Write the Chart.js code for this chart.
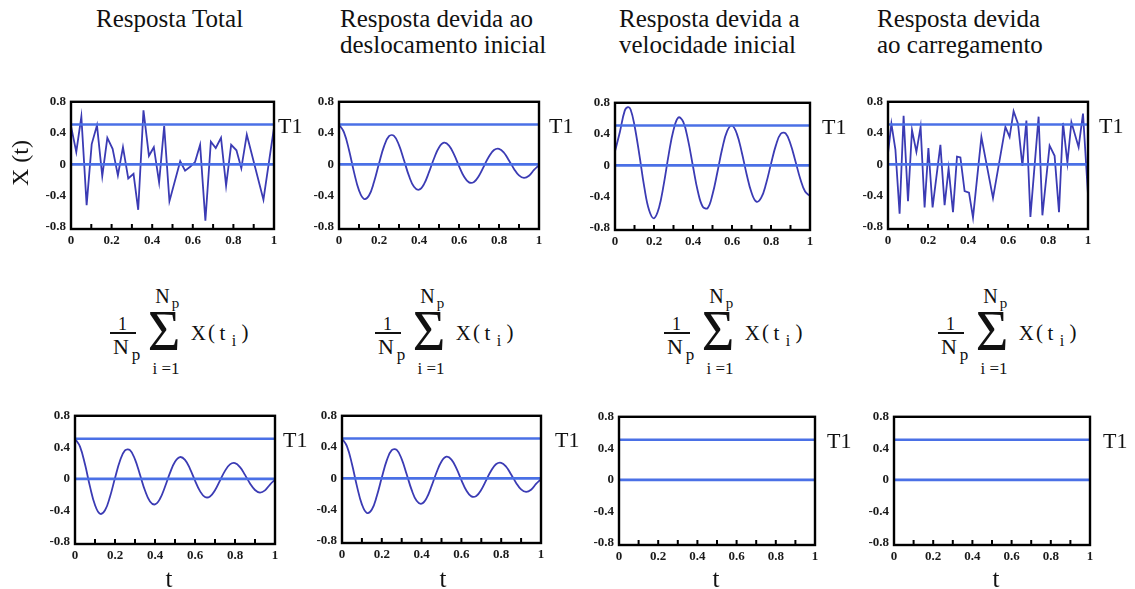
<!DOCTYPE html>
<html><head><meta charset="utf-8">
<script src="https://cdn.jsdelivr.net/npm/chart.js@4.4.1/dist/chart.umd.min.js"></script>
<style>
html,body{margin:0;padding:0;background:#fff;}
#wrap{position:relative;width:1135px;height:589px;overflow:hidden;font-family:'Liberation Serif','Times New Roman',serif;color:#111;}
.txt{position:absolute;white-space:nowrap;line-height:1;}
.title{position:absolute;font-size:25px;line-height:26px;white-space:nowrap;}
canvas{position:absolute;}
</style></head><body><div id="wrap"></div>
<script>
// ---------- data ----------
const T1 = 0.51;
const refLevels = [T1, 0];
const panelTitles = [
  ['Resposta Total'],
  ['Resposta devida ao', 'deslocamento inicial'],
  ['Resposta devida a', 'velocidade inicial'],
  ['Resposta devida', 'ao carregamento']
];
const yTickValues = [-0.8, -0.4, 0, 0.4, 0.8];
const yTickLabels = ['-0.8', '-0.4', '0', '0.4', '0.8'];
const xTickValues = [0, 0.2, 0.4, 0.6, 0.8, 1];
const xTickLabels = ['0', '0.2', '0.4', '0.6', '0.8', '1'];
const xMinorTicks = [0.1, 0.2, 0.3, 0.4, 0.5, 0.6, 0.7, 0.8, 0.9];

// Resposta total (jagged)
const tTotal = [0, 0.026, 0.051, 0.077, 0.102, 0.128, 0.154, 0.179, 0.205, 0.231, 0.256, 0.282, 0.308, 0.331, 0.357, 0.384, 0.408, 0.434, 0.459, 0.485, 0.538, 0.562, 0.587, 0.611, 0.636, 0.662, 0.689, 0.713, 0.739, 0.764, 0.789, 0.815, 0.839, 0.866, 0.948, 1];
const xTotal = [0.49, 0.16, 0.61, -0.52, 0.26, 0.50, -0.15, 0.34, 0.20, -0.14, 0.22, -0.18, -0.12, -0.58, 0.69, 0.11, 0.22, -0.23, 0.49, -0.47, 0.04, -0.08, -0.03, 0.03, 0.25, -0.72, 0.29, 0.21, 0.34, -0.27, 0.25, 0.18, -0.05, 0.38, -0.45, 0.47];

// smooth responses
const tSmooth = [0, 0.025, 0.05, 0.075, 0.1, 0.125, 0.15, 0.175, 0.2, 0.225, 0.25, 0.275, 0.3, 0.325, 0.35, 0.375, 0.4, 0.425, 0.45, 0.475, 0.5, 0.525, 0.55, 0.575, 0.6, 0.625, 0.65, 0.675, 0.7, 0.725, 0.75, 0.775, 0.8, 0.825, 0.85, 0.875, 0.9, 0.925, 0.95, 0.975, 1];
const xDesloc = [0.51, 0.41, 0.185, -0.098, -0.331, -0.441, -0.398, -0.225, 0.011, 0.230, 0.361, 0.365, 0.247, 0.053, -0.147, -0.286, -0.323, -0.252, -0.099, 0.076, 0.217, 0.277, 0.241, 0.128, -0.021, -0.155, -0.229, -0.223, -0.144, -0.021, 0.102, 0.184, 0.200, 0.149, 0.051, -0.057, -0.141, -0.173, -0.145, -0.071, -0.01];
const tVeloc = [0, 0.025, 0.05, 0.066, 0.08, 0.1, 0.125, 0.15, 0.175, 0.2, 0.225, 0.25, 0.275, 0.3, 0.325, 0.35, 0.375, 0.4, 0.425, 0.45, 0.475, 0.5, 0.525, 0.55, 0.575, 0.6, 0.625, 0.65, 0.675, 0.7, 0.725, 0.75, 0.775, 0.8, 0.825, 0.85, 0.875, 0.9, 0.925, 0.95, 0.975, 1];
const xVeloc = [0.18, 0.427, 0.70, 0.745, 0.715, 0.510, 0.134, -0.274, -0.573, -0.675, -0.546, -0.243, 0.135, 0.452, 0.612, 0.555, 0.320, -0.014, -0.333, -0.527, -0.545, -0.371, -0.088, 0.216, 0.438, 0.508, 0.403, 0.169, -0.112, -0.346, -0.462, -0.412, -0.231, 0.020, 0.256, 0.405, 0.41, 0.273, 0.057, -0.170, -0.334, -0.39];

// Resposta devida ao carregamento (jagged)
const tCarreg = [0, 0.017, 0.037, 0.058, 0.078, 0.1, 0.12, 0.142, 0.163, 0.183, 0.202, 0.223, 0.262, 0.283, 0.303, 0.325, 0.345, 0.362, 0.383, 0.405, 0.425, 0.467, 0.525, 0.587, 0.608, 0.628, 0.65, 0.672, 0.692, 0.712, 0.753, 0.772, 0.808, 0.833, 0.855, 0.875, 0.897, 0.917, 0.953, 0.975, 1];
const xCarreg = [0.14, 0.52, 0.19, -0.63, 0.62, -0.47, 0.44, 0.16, 0.48, -0.55, 0.21, -0.55, 0.25, -0.52, -0.05, -0.61, 0.10, 0.09, -0.34, -0.36, -0.68, 0.35, -0.43, 0.48, 0.35, 0.68, 0.52, -0.02, 0.56, -0.67, 0.61, -0.65, 0.24, 0.11, -0.61, 0.53, 0.02, 0.54, 0.22, 0.65, -0.39];

// mean responses (bottom row)
const xMediaTotal = [0.51, 0.41, 0.185, -0.098, -0.331, -0.441, -0.398, -0.225, 0.011, 0.230, 0.361, 0.365, 0.247, 0.053, -0.147, -0.286, -0.323, -0.252, -0.099, 0.076, 0.217, 0.277, 0.241, 0.128, -0.021, -0.155, -0.229, -0.223, -0.144, -0.021, 0.102, 0.184, 0.200, 0.149, 0.051, -0.057, -0.141, -0.173, -0.145, -0.071, -0.01];
const xMediaDesloc = [0.51, 0.41, 0.185, -0.098, -0.331, -0.441, -0.398, -0.225, 0.011, 0.230, 0.361, 0.365, 0.247, 0.053, -0.147, -0.286, -0.323, -0.252, -0.099, 0.076, 0.217, 0.277, 0.241, 0.128, -0.021, -0.155, -0.229, -0.223, -0.144, -0.021, 0.102, 0.184, 0.200, 0.149, 0.051, -0.057, -0.141, -0.173, -0.145, -0.071, -0.01];

// ---------- layout ----------
const wrap = document.getElementById('wrap');
const plots = [
  {l:71, t:99, w:203, h:130}, {l:339, t:99, w:200, h:130}, {l:615, t:100, w:195, h:130}, {l:888, t:99, w:200, h:130},
  {l:75, t:413, w:200, h:131}, {l:342, t:413, w:199, h:130}, {l:619, t:414, w:196, h:131}, {l:894, t:414, w:196, h:131}
];
const series = [
  {t:tTotal, v:xTotal, smooth:false}, {t:tSmooth, v:xDesloc, smooth:true}, {t:tVeloc, v:xVeloc, smooth:true}, {t:tCarreg, v:xCarreg, smooth:false},
  {t:tSmooth, v:xMediaTotal, smooth:true}, {t:tSmooth, v:xMediaDesloc, smooth:true}, null, null
];
const t1Left = [278, 549, 822, 1099, 283, 555, 827, 1103];
const titleLeft = [96, 340, 619, 877];
const formulaAnchor = [112, 377, 666, 940];
const tLabelX = [169, 443, 716, 996];

const PADL = 45, PADT = 10, PADR = 10, PADB = 25;
const tickFont = {family:'Liberation Serif', size:13, weight:'bold'};

const framePlugin = {
  id:'frame',
  afterDatasetsDraw(chart){
    const {ctx, chartArea:a} = chart, x = chart.scales.x;
    ctx.save();
    ctx.strokeStyle = '#000';
    ctx.lineWidth = 2.4;
    ctx.strokeRect(a.left, a.top, a.right - a.left, a.bottom - a.top);
    ctx.lineWidth = 2;
    ctx.beginPath();
    xMinorTicks.forEach(v => { const px = x.getPixelForValue(v); ctx.moveTo(px, a.bottom); ctx.lineTo(px, a.bottom - 5); });
    ctx.stroke();
    ctx.restore();
  }
};

function addText(str, x, y, size, center, extra){
  const d = document.createElement('div');
  d.className = 'txt';
  d.textContent = str;
  d.style.left = x + 'px'; d.style.top = y + 'px'; d.style.fontSize = size + 'px';
  d.style.transform = center ? 'translate(-50%,-50%)' : 'translateY(-50%)';
  if (extra) Object.assign(d.style, extra);
  wrap.appendChild(d);
  return d;
}

plots.forEach((p, i) => {
  const cv = document.createElement('canvas');
  const W = p.w + PADL + PADR, H = p.h + PADT + PADB;
  cv.width = W; cv.height = H;
  cv.style.left = (p.l - PADL) + 'px'; cv.style.top = (p.t - PADT) + 'px';
  cv.style.width = W + 'px'; cv.style.height = H + 'px';
  wrap.appendChild(cv);
  const datasets = [];
  const s = series[i];
  if (s) datasets.push({
    data: s.t.map((t, k) => ({x:t, y:s.v[k]})),
    borderColor:'#3b3bb4', borderWidth:1.8, pointRadius:0,
    tension: s.smooth ? 0.4 : 0, order:2
  });
  refLevels.forEach(v => datasets.push({
    data:[{x:0, y:v}, {x:1, y:v}], borderColor:'#4a70e6', borderWidth:2.6, pointRadius:0, order:1
  }));
  const chart = new Chart(cv, {
    type:'line',
    data:{datasets},
    plugins:[framePlugin],
    options:{
      responsive:false, animation:false, devicePixelRatio:1,
      layout:{padding:{top:PADT, right:PADR, left:0, bottom:0}},
      plugins:{legend:{display:false}, tooltip:{enabled:false}},
      scales:{
        x:{type:'linear', min:0, max:1,
           grid:{display:false, drawTicks:false}, border:{display:false},
           afterFit:sc => { sc.height = PADB; },
           afterBuildTicks:sc => { sc.ticks = xTickValues.map(v => ({value:v})); },
           ticks:{autoSkip:false, maxRotation:0, padding:4, color:'#1a1a1a', font:tickFont,
                  callback:(v, k) => xTickLabels[k]}},
        y:{type:'linear', min:-0.825, max:0.8,
           grid:{display:false, drawTicks:false}, border:{display:false},
           afterFit:sc => { sc.width = PADL; },
           afterBuildTicks:sc => { sc.ticks = yTickValues.map(v => ({value:v})); },
           ticks:{autoSkip:false, padding:5, color:'#1a1a1a', font:tickFont,
                  callback:(v, k) => yTickLabels[k]}}
      }
    }
  });
  const yT1 = chart.scales.y.getPixelForValue(T1) + p.t - PADT;
  addText('T1', t1Left[i], yT1 + 1, 22, false);
});

// titles
panelTitles.forEach((lines, i) => {
  const d = document.createElement('div');
  d.className = 'title';
  d.style.left = titleLeft[i] + 'px'; d.style.top = '6px';
  d.innerHTML = lines.join('<br>');
  wrap.appendChild(d);
});

// y label
addText('X (t)', 20, 163, 24, true, {transform:'translate(-50%,-50%) rotate(-90deg)'});

// t labels
tLabelX.forEach(x => addText('t', x, 578, 25, true));

// formulas
formulaAnchor.forEach(ax => {
  const ay = 333;
  addText('1', ax + 10.5, ay - 9, 18, true);
  const bar = document.createElement('div');
  Object.assign(bar.style, {position:'absolute', left:(ax - 2) + 'px', top:(ay - 0.75) + 'px', width:'26px', height:'1.5px', background:'#111'});
  wrap.appendChild(bar);
  addText('N', ax + 9, ay + 14, 22, true);
  addText('p', ax + 24, ay + 20.5, 17, true);
  addText('\u03A3', ax + 52, ay - 2, 56, true);
  addText('N', ax + 50.5, ay - 37, 20, true);
  addText('p', ax + 63.5, ay - 30, 15, true);
  addText('i =1', ax + 54, ay + 34.5, 17, true);
  addText('X', ax + 86.3, ay, 21, true);
  addText('(', ax + 99.5, ay - 1, 21, true);
  addText('t', ax + 110.3, ay, 21, true);
  addText('i', ax + 122, ay + 8, 16, true);
  addText(')', ax + 133, ay - 1, 21, true);
});
</script></body></html>
